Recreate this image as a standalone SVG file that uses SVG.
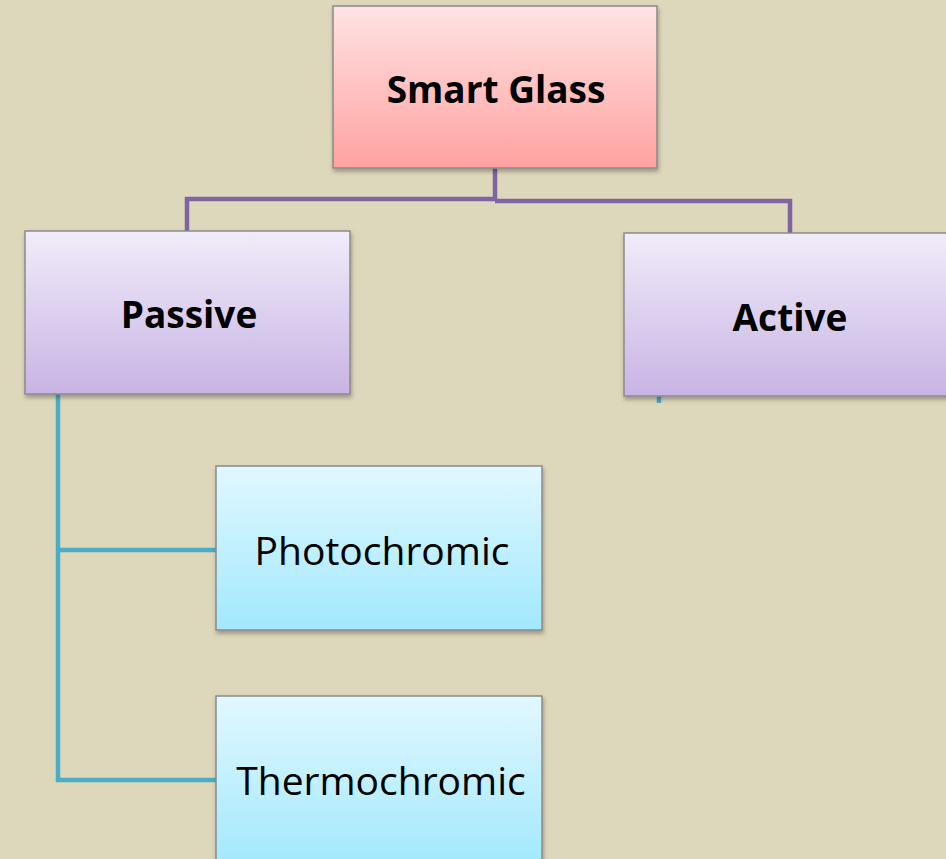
<svg xmlns="http://www.w3.org/2000/svg" width="946" height="859" viewBox="0 0 946 859">
<defs>
<linearGradient id="gPink" x1="0" y1="0" x2="0" y2="1"><stop offset="0" stop-color="#FFE3E3"/><stop offset="1" stop-color="#FFA2A0"/></linearGradient>
<linearGradient id="gPurple" x1="0" y1="0" x2="0" y2="1"><stop offset="0" stop-color="#F1ECF9"/><stop offset="1" stop-color="#C8B4E4"/></linearGradient>
<linearGradient id="gCyan" x1="0" y1="0" x2="0" y2="1"><stop offset="0" stop-color="#E1F8FF"/><stop offset="1" stop-color="#A2E8FD"/></linearGradient>
<filter id="sh" x="-10%" y="-10%" width="120%" height="130%"><feDropShadow dx="1" dy="3" stdDeviation="2" flood-color="#000" flood-opacity="0.3"/></filter>
</defs>
<style>
.box{stroke:#8a8a8a;stroke-width:1.5;filter:url(#sh)}
.lbl{font-family:"Open Sans","Liberation Sans",sans-serif;fill:#000;text-anchor:middle;dominant-baseline:central}
.b{font-weight:bold;font-size:37px}
.n{font-size:39px}
.pl{fill:none;stroke:#8064A2;stroke-width:4.5}
.cl{fill:none;stroke:#4BACC6;stroke-width:4.5}
</style>
<rect width="946" height="859" fill="#DDD8BB"/>
<g id="connectors">
<path class="pl" d="M495,168 V199 H187 V232"/>
<path class="pl" d="M495,201 H790 V235"/>
<path class="cl" d="M58,394 V780 H216"/>
<path class="cl" d="M58,550 H216"/>
<path class="cl" d="M659,396 V403"/>
</g>
<g id="smart-glass"><rect class="box" x="333" y="6" width="324" height="162" fill="url(#gPink)"/><text class="lbl b" x="496" y="88">Smart Glass</text></g>
<g id="passive"><rect class="box" x="25" y="231" width="325" height="163" fill="url(#gPurple)"/><text class="lbl b" x="189" y="313">Passive</text></g>
<g id="active"><rect class="box" x="624" y="233" width="326" height="163" fill="url(#gPurple)"/><text class="lbl b" x="790" y="316">Active</text></g>
<g id="photochromic"><rect class="box" x="216" y="466" width="326" height="164" fill="url(#gCyan)"/><text class="lbl n" x="382" y="549">Photochromic</text></g>
<g id="thermochromic"><rect class="box" x="216" y="696" width="326" height="170" fill="url(#gCyan)"/><text class="lbl n" x="381" y="779">Thermochromic</text></g>
</svg>
